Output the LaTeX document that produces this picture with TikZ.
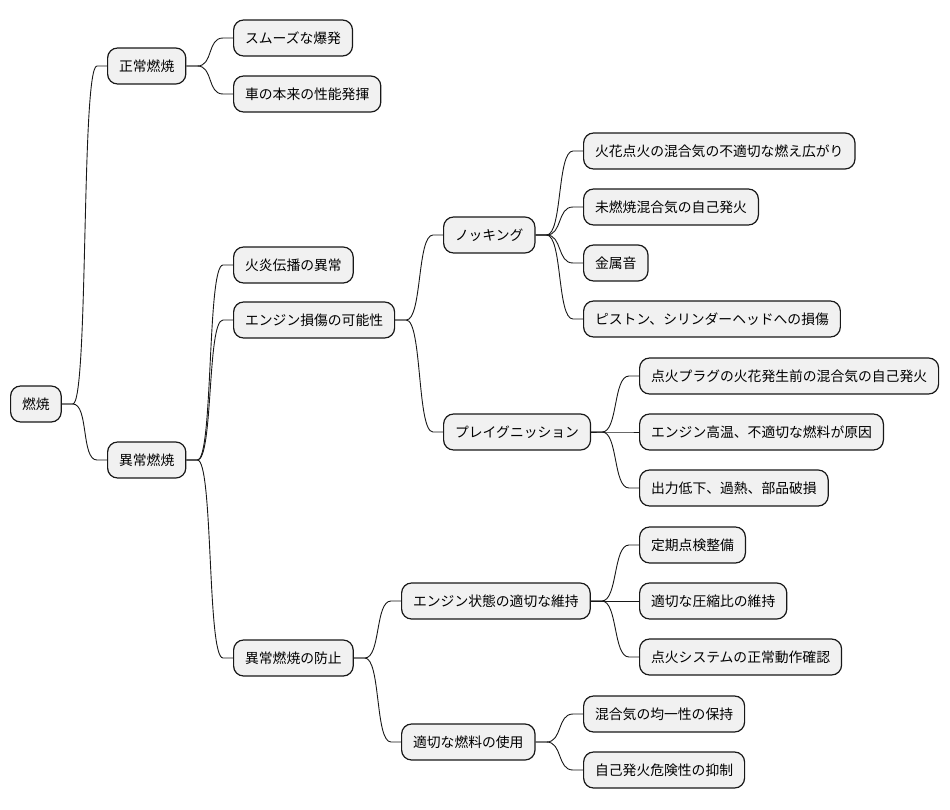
\documentclass[tikz,border=0pt]{standalone}
\usepackage{fontspec}
\setmainfont{Noto Sans CJK JP}
\usetikzlibrary{calc}
\definecolor{nodefill}{HTML}{F1F1F1}
\definecolor{linecol}{HTML}{181818}
\tikzset{
  mm/.style={draw=linecol, fill=nodefill, line width=1.2pt, rounded corners=10pt,
    anchor=west, inner xsep=11.5pt, inner ysep=0pt, minimum height=36pt,
    font=\fontsize{13.8}{16}\selectfont, text=black},
  edge/.style={draw=linecol, line width=0.9pt}
}
\newcommand\mmlink[2]{%
  \path (#1.east) ++(11,0) coordinate (p1);
  \path (#2.west) ++(-10,0) coordinate (p2);
  \draw[edge] (#1.east) -- (p1) .. controls ($(p1)+(16,0)$) and ($(p2)+(-16,0)$) .. (p2) -- (#2.west);
}
\begin{document}
\begin{tikzpicture}[x=1pt,y=-1pt]
\useasboundingbox (0,0) rectangle (950,809);
% level 0
\node[mm] (root) at (10,404) {燃焼};
% level 1
\node[mm] (normal) at (107,66) {正常燃焼};
\node[mm] (abn) at (107,460) {異常燃焼};
% level 2
\node[mm] (smooth) at (233,38) {スムーズな爆発};
\node[mm] (perf) at (233,94) {車の本来の性能発揮};
\node[mm] (flame) at (233,265) {火炎伝播の異常};
\node[mm] (damage) at (233,320) {エンジン損傷の可能性};
\node[mm] (prev) at (233,658) {異常燃焼の防止};
% level 3
\node[mm] (knock) at (443,235) {ノッキング};
\node[mm] (preig) at (443,432) {プレイグニッション};
\node[mm] (maint) at (401,601) {エンジン状態の適切な維持};
\node[mm] (fuel) at (401,742) {適切な燃料の使用};
% level 4
\node[mm] (k1) at (583,151) {火花点火の混合気の不適切な燃え広がり};
\node[mm] (k2) at (583,207) {未燃焼混合気の自己発火};
\node[mm] (k3) at (583,263) {金属音};
\node[mm] (k4) at (583,319) {ピストン、シリンダーヘッドへの損傷};
\node[mm] (p1n) at (639,376) {点火プラグの火花発生前の混合気の自己発火};
\node[mm] (p2n) at (639,432) {エンジン高温、不適切な燃料が原因};
\node[mm] (p3n) at (639,488) {出力低下、過熱、部品破損};
\node[mm] (m1) at (639,545) {定期点検整備};
\node[mm] (m2) at (639,601) {適切な圧縮比の維持};
\node[mm] (m3) at (639,657) {点火システムの正常動作確認};
\node[mm] (f1) at (583,714) {混合気の均一性の保持};
\node[mm] (f2) at (583,770) {自己発火危険性の抑制};
% links
\mmlink{root}{normal}
\mmlink{root}{abn}
\mmlink{normal}{smooth}
\mmlink{normal}{perf}
\mmlink{abn}{flame}
\mmlink{abn}{damage}
\mmlink{abn}{prev}
\mmlink{damage}{knock}
\mmlink{damage}{preig}
\mmlink{prev}{maint}
\mmlink{prev}{fuel}
\mmlink{knock}{k1}
\mmlink{knock}{k2}
\mmlink{knock}{k3}
\mmlink{knock}{k4}
\mmlink{preig}{p1n}
\mmlink{preig}{p2n}
\mmlink{preig}{p3n}
\mmlink{maint}{m1}
\mmlink{maint}{m2}
\mmlink{maint}{m3}
\mmlink{fuel}{f1}
\mmlink{fuel}{f2}
\end{tikzpicture}
\end{document}
